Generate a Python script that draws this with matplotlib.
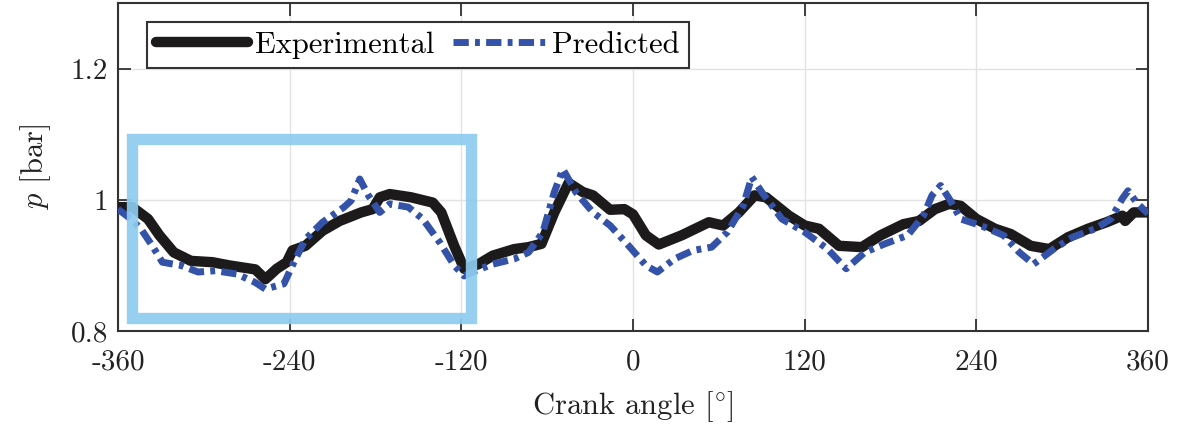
import numpy as np
import matplotlib
matplotlib.use("Agg")
import matplotlib.pyplot as plt
from matplotlib.patches import Rectangle

plt.rcParams['font.family'] = 'serif'
plt.rcParams['font.serif'] = ['cmr10']
plt.rcParams['mathtext.fontset'] = 'cm'
plt.rcParams['axes.unicode_minus'] = False
plt.rcParams['axes.formatter.use_mathtext'] = False

# crank angle [deg] / pressure [bar]
exp_angle = [-360, -350, -339, -331, -321, -309, -294, -282, -264, -257, -249, -242,
             -238, -229, -217, -205, -190, -182, -177, -170, -155, -140, -134, -125,
             -118, -108, -98, -83, -73, -64, -55, -45, -35, -28, -16, -6, 0, 9, 18,
             34, 53, 63, 74, 85, 93, 109, 120, 130, 144, 160, 173, 189, 200, 211,
             221, 229, 240, 253, 264, 278, 291, 304, 318, 331, 342, 344, 350, 360]
exp_p = [0.989, 0.989, 0.971, 0.946, 0.920, 0.907, 0.905, 0.900, 0.894, 0.879, 0.895, 0.905,
         0.923, 0.930, 0.953, 0.968, 0.981, 0.986, 1.004, 1.009, 1.004, 0.996, 0.981, 0.930,
         0.895, 0.902, 0.915, 0.925, 0.928, 0.933, 0.981, 1.026, 1.012, 1.007, 0.985, 0.986, 0.978, 0.946, 0.932,
         0.946, 0.966, 0.961, 0.981, 1.007, 1.004, 0.976, 0.961, 0.956, 0.930, 0.928, 0.946, 0.963, 0.968, 0.986,
         0.994, 0.991, 0.971, 0.956, 0.948, 0.930, 0.925, 0.943, 0.956, 0.966, 0.976, 0.968, 0.981, 0.981]

pred_angle = [-360, -351, -344, -336, -329, -316, -304, -292, -277, -264, -257, -244,
              -237, -229, -217, -202, -197, -191, -185, -177, -170, -157, -147, -135,
              -125, -118, -110, -98, -83, -73, -63, -55, -49, -40, -28, -16, -3, 9, 17,
              29, 42, 55, 66, 77, 83, 90, 104, 120, 136, 149, 162, 176, 192, 203, 209,
              215, 221, 229, 243, 259, 270, 280, 294, 307, 323, 334, 342, 346, 352, 360]
pred_p = [0.986, 0.971, 0.956, 0.930, 0.905, 0.900, 0.890, 0.892, 0.887, 0.874, 0.864, 0.872,
          0.905, 0.940, 0.966, 0.989, 0.999, 1.032, 1.007, 0.981, 0.994, 0.989, 0.971, 0.935,
          0.900, 0.884, 0.892, 0.902, 0.910, 0.920, 0.951, 1.012, 1.047, 1.012, 0.981, 0.961, 0.930, 0.900, 0.890,
          0.910, 0.923, 0.928, 0.951, 0.991, 1.035, 1.012, 0.971, 0.951, 0.925, 0.895, 0.920, 0.933, 0.946, 0.976, 1.007,
          1.022, 1.002, 0.971, 0.961, 0.946, 0.920, 0.902, 0.925, 0.943, 0.956, 0.971, 1.002, 1.014, 0.996, 0.979]

xticks = [-360, -240, -120, 0, 120, 240, 360]
yticks = [0.8, 1.0, 1.2]
ytick_labels = ["0.8", "1", "1.2"]

# highlighted window (angle from/to, pressure from/to)
box_angle = [-350, -113.5]
box_p = [0.820, 1.093]

fig = plt.figure(figsize=(12, 4.25), dpi=100)
ax = fig.add_axes([0.0983, 0.2212, 0.8584, 0.7708])

ax.plot(exp_angle, exp_p, color='#1c1a1a', lw=7.5, solid_capstyle='round',
        solid_joinstyle='round', label='Experimental', zorder=3)
ax.plot(pred_angle, pred_p, color='#3352a8', lw=5.0, linestyle=(0, (2.2, 0.9, 0.7, 0.9)),
        label='Predicted', zorder=4)

ax.add_patch(Rectangle((box_angle[0], box_p[0]), box_angle[1] - box_angle[0], box_p[1] - box_p[0],
                       fill=False, edgecolor='#8ecbf0', lw=8.2, joinstyle='miter', alpha=0.92, zorder=5))

ax.set_xlim(-360, 360)
ax.set_ylim(0.8, 1.3)
ax.set_xticks(xticks)
ax.set_yticks(yticks)
ax.set_yticklabels(ytick_labels)
ax.tick_params(direction='in', length=9, width=1.2, top=True, right=True,
               labelsize=21, colors='#222222')
ax.tick_params(axis='x', pad=13)
ax.tick_params(axis='y', pad=7)
ax.grid(True, color='#e3e3e3', lw=1.0)
ax.set_axisbelow(True)
for s in ax.spines.values():
    s.set_color('#333333')
    s.set_linewidth(1.5)

ax.set_xlabel(r"Crank angle $[^{\circ}]$", fontsize=22, color='#222222', labelpad=10)
ax.set_ylabel(r"$p$ [bar]", fontsize=22, color='#222222', labelpad=13)

leg = ax.legend(loc='upper left', bbox_to_anchor=(0.028, 0.942), borderaxespad=0, ncol=2,
                fontsize=22, frameon=True, fancybox=False, framealpha=1, edgecolor='#333333',
                handlelength=3.0, handletextpad=0.25, columnspacing=0.6,
                borderpad=0.3, labelspacing=0.2)
leg.get_frame().set_linewidth(1.5)

fig.savefig("out.png", dpi=100)
